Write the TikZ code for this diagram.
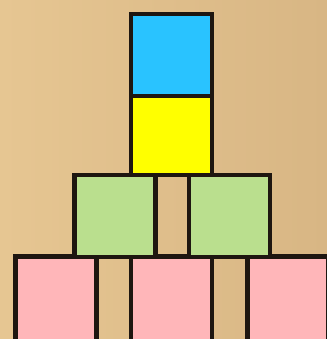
\documentclass[tikz,border=0pt]{standalone}
\usepackage{tikz}
\usetikzlibrary{positioning}

\definecolor{bgleft}{RGB}{230,198,146}
\definecolor{bgright}{RGB}{216,182,132}
\definecolor{edge}{RGB}{30,22,16}
\definecolor{cubeblue}{RGB}{41,195,255}
\definecolor{cubeyellow}{RGB}{255,255,0}
\definecolor{cubegreen}{RGB}{186,223,142}
\definecolor{cubepink}{RGB}{255,182,185}

\begin{document}
\begin{tikzpicture}[x=0.02cm, y=-0.02cm,
  cube/.style={draw=edge, line width=2.6pt, rectangle, inner sep=0pt,
    minimum width=1.62cm, minimum height=1.64cm}]
\useasboundingbox (0,0) rectangle (327,339);
\clip (0,0) rectangle (327,339);
\shade[left color=bgleft, right color=bgright] (0,0) rectangle (327,339);

% bottom row
\node[cube, fill=cubepink, minimum height=1.7cm] (pinkL) at (56,299) {};
\node[cube, fill=cubepink, minimum height=1.7cm] (pinkM) at (171.5,299) {};
\node[cube, fill=cubepink, minimum height=1.7cm] (pinkR) at (288,299) {};

% middle row
\node[cube, fill=cubegreen] (greenL) at (115,216) {};
\node[cube, fill=cubegreen] (greenR) at (229.5,216) {};

% top stack
\node[cube, fill=cubeyellow, minimum height=1.58cm] (yellow) at (171.5,135.5) {};
\node[cube, fill=cubeblue] (blue) at (171.5,55) {};
\end{tikzpicture}
\end{document}
